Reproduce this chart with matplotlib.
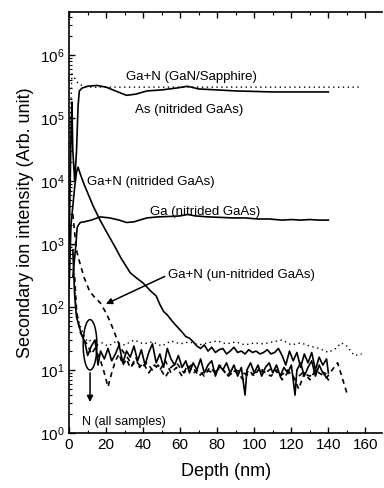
import numpy as np
import matplotlib
matplotlib.use('Agg')
import matplotlib.pyplot as plt
from matplotlib.ticker import MultipleLocator, LogLocator, NullFormatter

plt.rcParams['font.family'] = ['Liberation Sans', 'DejaVu Sans']
plt.rcParams['mathtext.fontset'] = 'custom'
plt.rcParams['mathtext.rm'] = 'Liberation Sans'
plt.rcParams['mathtext.it'] = 'Liberation Sans'

# ---------------- data ----------------
# Ga+N in GaN/Sapphire (dotted)
gan_x = [0, 0.7, 1.5, 3, 5, 8, 12, 20, 40, 60, 80, 100, 120, 140, 158]
gan_y = [2e3, 1e5, 5e5, 4.3e5, 3.5e5, 3.2e5, 3.1e5, 3.1e5, 3.1e5, 3.1e5,
         3.1e5, 3.1e5, 3.1e5, 3.1e5, 3.1e5]

# As in nitrided GaAs (solid)
as_x = [0, 1, 1.5, 2, 3, 4, 4.8, 5.5, 7, 10, 15, 20, 25, 31, 36, 42, 50,
        58, 64, 70, 80, 90, 100, 110, 120, 130, 140]
as_y = [1e3, 5e4, 1.8e5, 3e4, 1e4, 3e4, 1.5e5, 2.7e5, 3.0e5, 3.2e5, 3.3e5,
        3.1e5, 2.7e5, 2.3e5, 2.4e5, 2.7e5, 2.8e5, 3.0e5, 3.2e5, 2.9e5,
        2.8e5, 2.7e5, 2.65e5, 2.6e5, 2.6e5, 2.6e5, 2.6e5]

# Ga+N in nitrided GaAs (solid)
gann_x = [0, 1, 2, 3, 4, 4.8, 6, 8, 10, 13, 16.7, 20, 24.8, 28, 33, 37, 40,
          44, 47, 49, 51, 53, 56, 58, 61, 63, 65, 67, 69, 71, 73, 75, 77, 79,
          81, 83, 85, 87, 89, 91, 93, 95, 97, 99, 101, 103, 105, 107, 109,
          111, 113, 115, 117, 119, 121, 123, 125, 127, 129, 131, 133, 135,
          137, 139, 140]
gann_y = [200, 2e3, 4e3, 8e3, 1.4e4, 1.66e4, 1.3e4, 9e3, 6.5e3, 4e3, 2.4e3,
          1.6e3, 900, 600, 350, 280, 240, 180, 150, 110, 85, 75, 58, 50, 40,
          34, 32, 28, 24, 22, 25, 20, 23, 19, 21, 22, 18, 20, 23, 19, 20, 18,
          21, 19, 20, 18, 19, 21, 18, 19, 22, 17, 12, 20, 14, 19, 11, 18, 13,
          19, 10, 16, 12, 15, 9]

# Ga in nitrided GaAs (solid)
ga_x = [2, 3.8, 4.3, 5, 6, 8, 12, 16.7, 22, 27, 31, 35, 38, 42, 48, 55, 60,
        64, 68, 75, 82, 88, 95, 102, 108, 115, 120, 125, 130, 135, 140]
ga_y = [300, 1.1e3, 1.8e3, 2.0e3, 2.2e3, 2.25e3, 2.4e3, 2.7e3, 2.6e3, 2.4e3,
        2.2e3, 2.25e3, 2.4e3, 2.6e3, 2.7e3, 2.75e3, 2.8e3, 2.95e3, 2.8e3,
        2.7e3, 2.65e3, 2.6e3, 2.6e3, 2.5e3, 2.5e3, 2.4e3, 2.45e3, 2.4e3,
        2.45e3, 2.4e3, 2.4e3]

# Ga+N in un-nitrided GaAs (dashed)
ganu_x = [2, 3, 4, 5, 6, 8, 11, 14, 17, 20, 22, 24, 26, 28, 30, 32, 34, 36,
          38, 40, 43, 46, 49, 52, 55, 58, 61, 64, 67, 70, 73, 76, 79, 82, 85,
          88, 91, 94, 97, 100, 103, 106, 109, 112, 115, 118, 121, 124, 127,
          130, 133, 135, 139, 142, 145, 150]
ganu_y = [3e3, 1.5e3, 800, 600, 480, 300, 180, 140, 115, 80, 60, 43, 30, 22,
          18, 15, 12, 16, 11, 13, 9, 12, 10, 14, 9, 11, 8, 12, 9, 10, 8, 11,
          9, 12, 8, 10, 9, 7, 10, 8, 11, 9, 8, 10, 7, 9, 8, 5, 9, 7, 10, 9,
          7.5, 10, 13, 4.3]

# N, all samples
nn_x = [2, 3, 4, 5, 6, 7, 8.6, 10, 12, 14, 15.6, 17, 19, 21, 23, 25, 27,
        29, 31, 33, 35, 37, 39, 41, 43, 45, 47, 49, 51, 53, 55, 57, 59, 61,
        63, 65, 67, 69, 71, 73, 75, 77, 79, 81, 83, 85, 87, 89, 91, 93, 95,
        96, 98, 100, 102, 104, 106, 108, 110, 112, 114, 116, 118, 120, 122,
        123, 125, 127, 129, 131, 133, 135, 137, 140]
nn_y = [800, 150, 69, 55, 43, 35, 27, 17, 24, 30, 12, 20, 15, 22, 14, 18,
        25, 13, 20, 16, 24, 14, 21, 12, 19, 26, 13, 18, 11, 22, 15, 12, 17,
        11, 14, 9, 13, 10, 15, 9, 12, 14, 8, 12, 10, 13, 9, 12, 8, 11, 4,
        10, 13, 9, 12, 8, 11, 13, 9, 12, 8, 11, 9, 12, 4, 10, 13, 8, 11, 14,
        8, 12, 9, 7]

nd_x = [3, 4, 5, 6, 8, 10, 12, 14, 17, 19, 21, 23, 25, 27, 29, 31, 33, 36,
        39, 42, 45, 48, 52, 55, 58, 62, 66, 70, 74, 78, 82, 86, 90, 94, 98,
        102, 106, 110, 114, 118, 122, 126, 130, 134, 138, 140]
nd_y = [300, 90, 55, 40, 30, 25, 18, 22, 14, 9, 5.4, 9, 14, 18, 12, 15,
        10.8, 14, 11, 13, 10, 12, 7.7, 11, 13, 9, 12, 8, 10, 9, 11, 8, 10, 9,
        8, 10, 9, 11, 8, 10, 7, 9, 8, 10, 9, 8]

ns_x = [2, 3, 4, 6, 8, 10, 12, 15, 18, 21, 25, 30, 35, 40, 45, 50, 55, 60,
        65, 70, 75, 80, 85, 90, 95, 100, 105, 110, 115, 120, 125, 130, 135,
        140, 144, 147, 150, 154, 158]
ns_y = [1e3, 200, 80, 50, 35, 28, 30, 25, 27, 24, 28, 25, 30, 26, 28, 24,
        29, 26, 28, 25, 27, 29, 26, 28, 25, 27, 26, 28, 30, 25, 27, 24, 22,
        19, 22, 27, 24, 17, 18]

# ---------------- figure ----------------
fig = plt.figure(figsize=(3.84, 4.88), dpi=100)
ax = fig.add_axes([0.180, 0.1127, 0.815, 0.8623])

lw = 1.2
ax.plot(gan_x, gan_y, color='k', lw=1.0, ls=(0, (1, 2.5)))
ax.plot(as_x, as_y, color='k', lw=lw)
ax.plot(gann_x, gann_y, color='k', lw=lw)
ax.plot(ga_x, ga_y, color='k', lw=lw)
ax.plot(ganu_x, ganu_y, color='k', lw=lw, ls=(0, (3, 2.5)))
ax.plot(nn_x, nn_y, color='k', lw=lw)
ax.plot(nd_x, nd_y, color='k', lw=lw, ls=(0, (3, 2.5)))
ax.plot(ns_x, ns_y, color='k', lw=1.0, ls=(0, (1, 2.5)))

# ellipse around the N signals
t = np.linspace(0, 2 * np.pi, 100)
ax.plot(11.3 + 3.7 * np.cos(t), 10 ** (1.4 + 0.4 * np.sin(t)), color='k', lw=1.1)

ax.set_yscale('log')
ax.set_xlim(0, 169)
ax.set_ylim(1, 4.8e6)

fs = 9.5
ax.text(66, 4.5e5, 'Ga+N (GaN/Sapphire)', fontsize=fs, ha='center', va='center')
ax.text(64.7, 1.35e5, 'As (nitrided GaAs)', fontsize=fs, ha='center', va='center')
ax.text(9.7, 9.6e3, 'Ga+N (nitrided GaAs)', fontsize=fs, ha='left', va='center')
ax.text(73.7, 3.2e3, 'Ga (nitrided GaAs)', fontsize=fs, ha='center', va='center')
ax.text(53.4, 320, 'Ga+N (un-nitrided GaAs)', fontsize=fs, ha='left', va='center')
ax.text(7, 1.5, 'N (all samples)', fontsize=fs - 0.5, ha='left', va='center')

ax.annotate('', xy=(18.5, 107), xytext=(53, 320),
            arrowprops=dict(arrowstyle='-|>', color='k', lw=1.1,
                            mutation_scale=9))
ax.annotate('', xy=(11.3, 2.8), xytext=(11.3, 10),
            arrowprops=dict(arrowstyle='-|>', color='k', lw=1.1,
                            mutation_scale=9))

ax.xaxis.set_major_locator(MultipleLocator(20))
ax.xaxis.set_minor_locator(MultipleLocator(10))
ax.yaxis.set_major_locator(LogLocator(base=10, numticks=10))
ax.yaxis.set_minor_locator(LogLocator(base=10, subs=np.arange(2, 10), numticks=20))
ax.yaxis.set_minor_formatter(NullFormatter())
ax.tick_params(which='both', direction='in', top=True, right=False, labelsize=11)
ax.tick_params(which='major', length=4, width=1)
ax.tick_params(which='minor', length=2, width=0.8)
ax.spines['right'].set_visible(False)
for s in ['left', 'bottom', 'top']:
    ax.spines[s].set_linewidth(1.2)

ax.set_xlabel('Depth (nm)', fontsize=13, labelpad=8)
ax.set_ylabel('Secondary ion intensity (Arb. unit)', fontsize=13, labelpad=4)

fig.savefig('out.png', dpi=100)
